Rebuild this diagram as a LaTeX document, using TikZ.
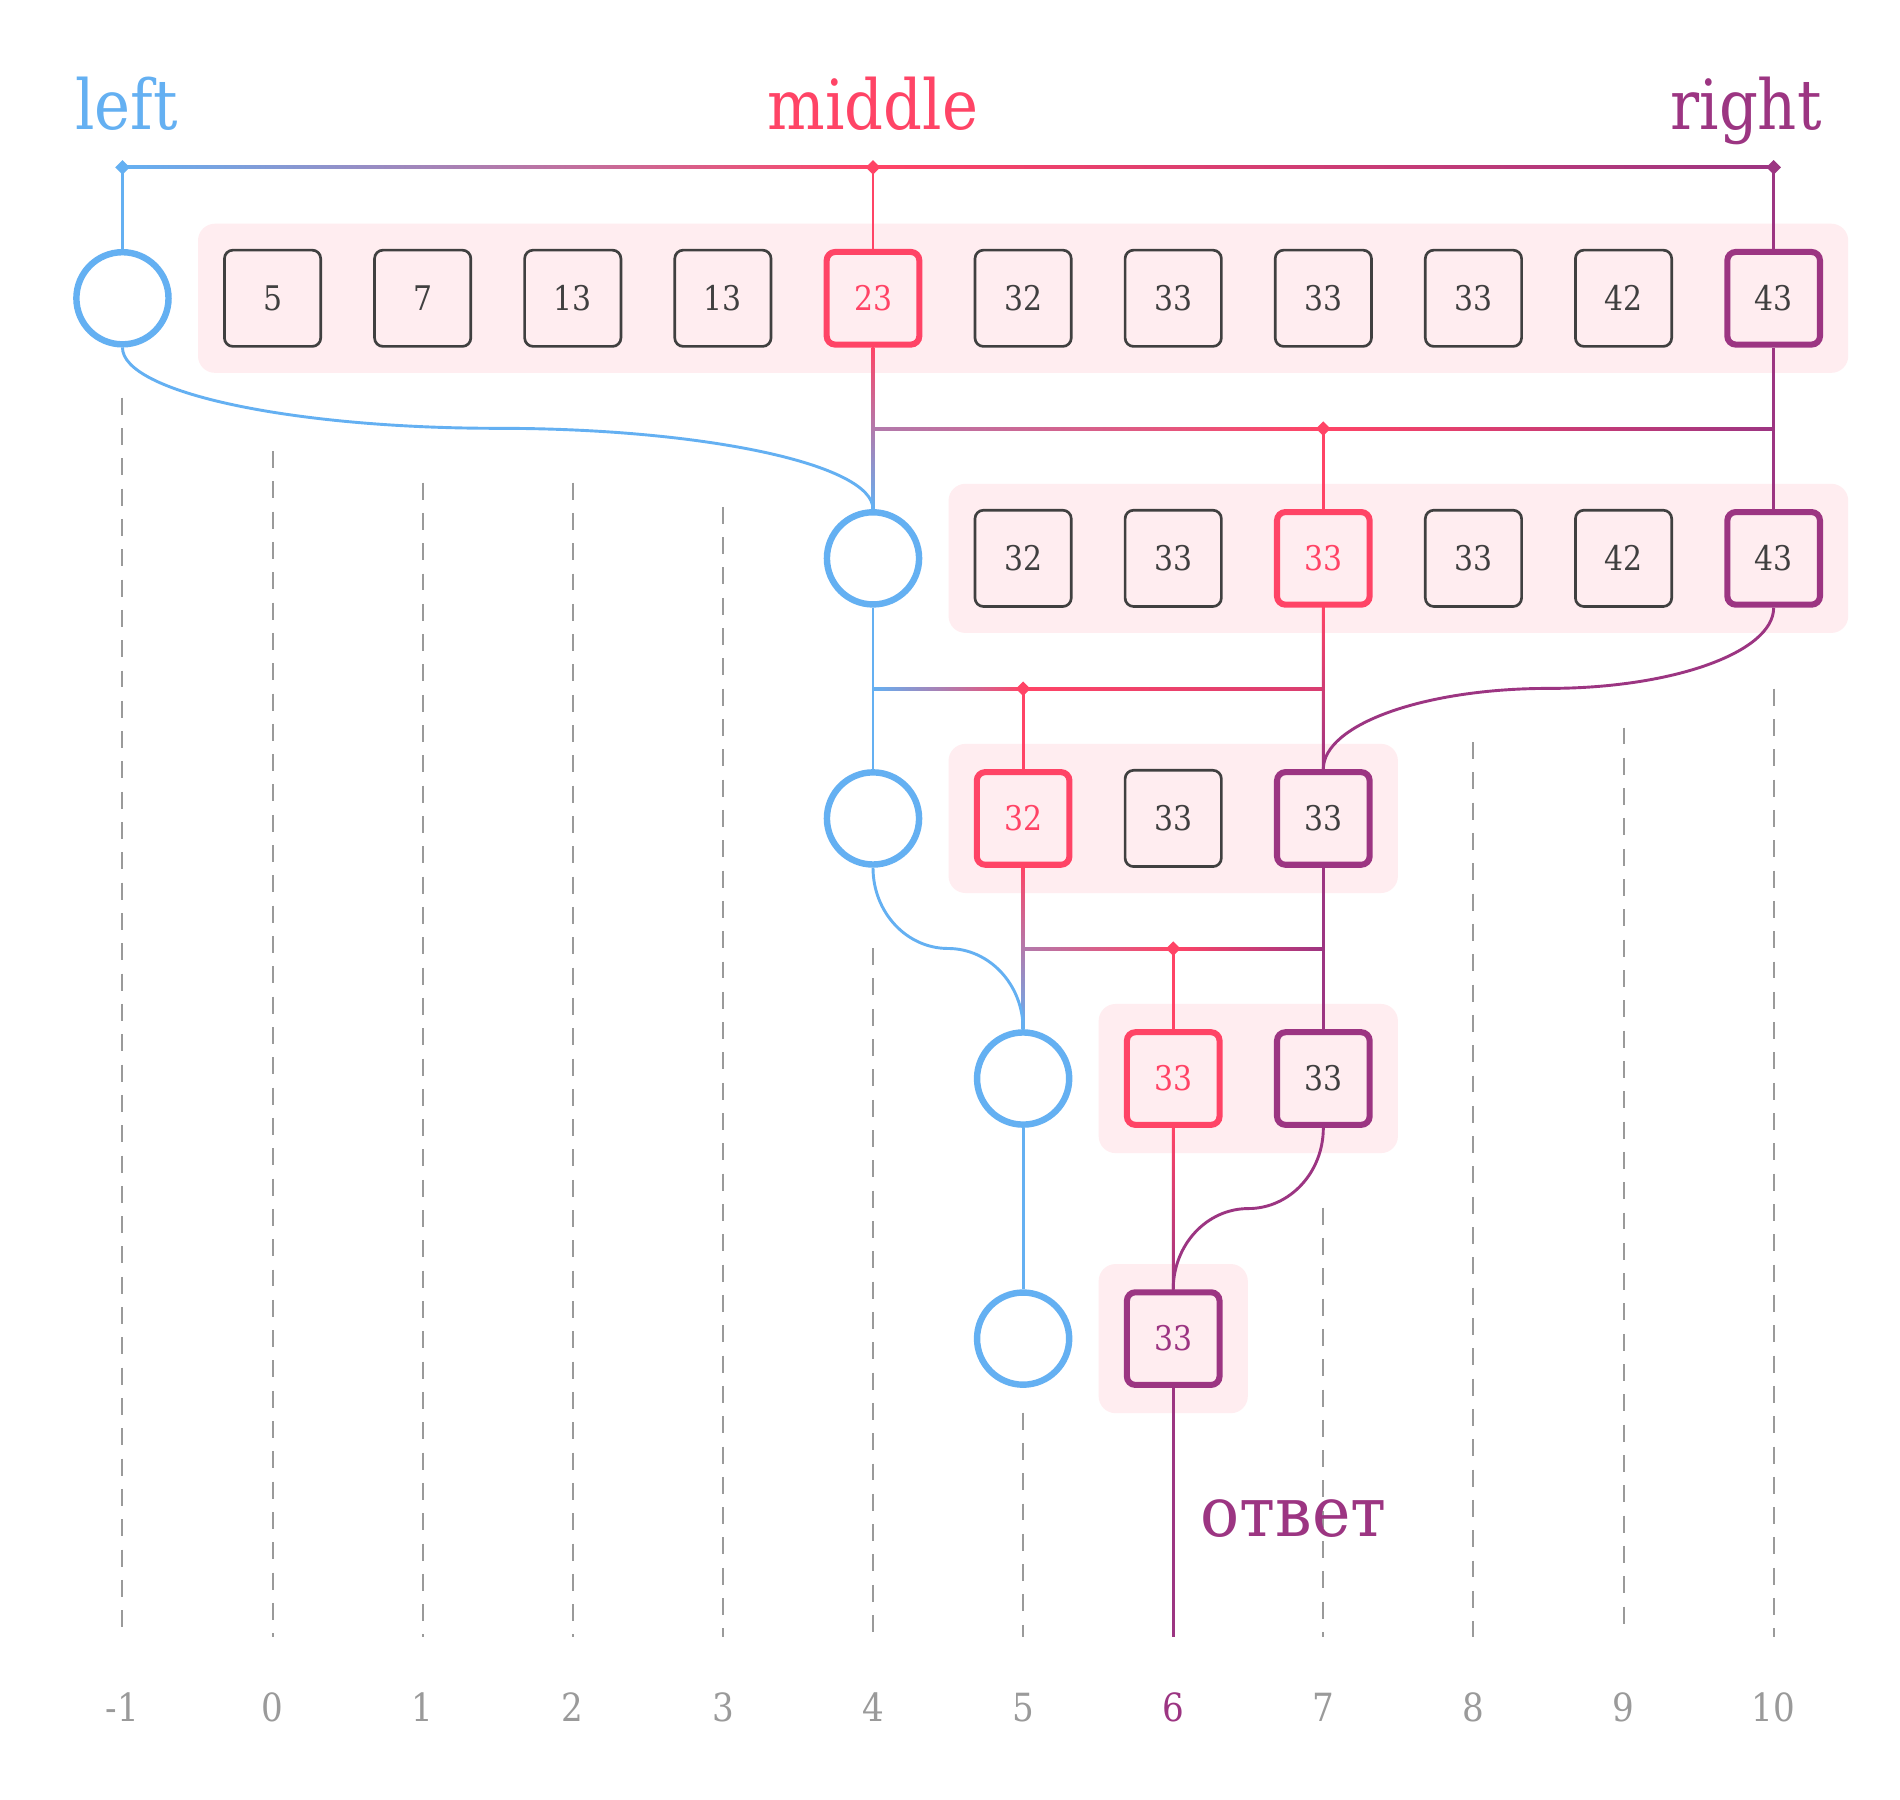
\documentclass[tikz,border=0pt]{standalone}
\usepackage{fontspec}
\setmainfont{DejaVu Serif}[FakeStretch=0.88]
\newfontfamily\ansfont{DejaVu Serif}[FakeStretch=0.94]
\usetikzlibrary{calc}
\definecolor{cblue}{HTML}{64B0F2}
\definecolor{cred}{HTML}{FF4466}
\definecolor{cpurple}{HTML}{9C3582}
\definecolor{cpink}{HTML}{FFEDF0}
\definecolor{cdark}{HTML}{404040}
\definecolor{cgray}{HTML}{9A9A9A}
\newcommand{\gw}{1.2}
\newcommand{\hgrad}[4]{\shade[left color=#3,right color=#4] ($(#1)+(0,-\gw)$) rectangle ($(#2)+(0,\gw)$);}
\newcommand{\vgrad}[4]{\shade[top color=#3,bottom color=#4] ($(#1)+(-\gw,0)$) rectangle ($(#2)+(\gw,0)$);}
\newcommand{\dmd}[2]{\fill[#2] ($(#1)+(0,-6)$) -- ($(#1)+(6,0)$) -- ($(#1)+(0,6)$) -- ($(#1)+(-6,0)$) -- cycle;}
% S-shaped connector made of two quarter-ellipse arcs
\newcommand{\scurve}[3]{%
  \coordinate (scm) at ($(#1)!0.5!(#2)$);
  \coordinate (sca) at (#1|-scm);
  \coordinate (scb) at (#2|-scm);
  \draw[conn,#3] (#1) .. controls ($(#1)!0.276!(#1|-#2)$) and ($(scm)!0.552!(sca)$) .. (scm)
    .. controls ($(scm)!0.552!(scb)$) and ($(#2)!0.276!(#2|-#1)$) .. (#2);}
\newcommand{\boxfont}{\fontsize{28}{34}\selectfont}
\newcommand{\bigfont}{\fontsize{57}{68}\selectfont}
\newcommand{\botfont}{\fontsize{32}{38}\selectfont}
\begin{document}
\begin{tikzpicture}[x=1pt,y=-1pt,
  declare function={cx(\c)=101+123.8*(\c+1); ry(\r)=246+214.5*(\r-1);},
  nbox/.style={draw=cdark, line width=2.2pt, fill=cpink, rounded corners=7pt,
    minimum size=79.4pt, inner sep=0pt, text=cdark, font=\boxfont},
  hred/.style={nbox, draw=cred, line width=5pt, minimum size=76.4pt, text=cred},
  hpur/.style={nbox, draw=cpurple, line width=5pt, minimum size=76.4pt, text=cdark},
  ptr/.style={circle, draw=cblue, line width=5.3pt, minimum size=76pt, fill=white, inner sep=0pt},
  conn/.style={line width=2.4pt},
  dashline/.style={draw=cgray, line width=1.6pt, dash pattern=on 14pt off 11pt},
  toplab/.style={font=\bigfont, anchor=base, inner sep=0pt},
  botlab/.style={font=\botfont, anchor=base, inner sep=0pt, text=cgray},
  pinkbg/.style={fill=cpink, rounded corners=14pt}
]
\fill[white] (0,0) rectangle (1567,1484.5);
\useasboundingbox (0,0) rectangle (1567,1484.5);

% pink backgrounds
\fill[pinkbg] ({cx(0)-61.5},{ry(1)-61.5}) rectangle ({cx(10)+61.5},{ry(1)+61.5});
\fill[pinkbg] ({cx(5)-61.5},{ry(2)-61.5}) rectangle ({cx(10)+61.5},{ry(2)+61.5});
\fill[pinkbg] ({cx(5)-61.5},{ry(3)-61.5}) rectangle ({cx(7)+61.5},{ry(3)+61.5});
\fill[pinkbg] ({cx(6)-61.5},{ry(4)-61.5}) rectangle ({cx(7)+61.5},{ry(4)+61.5});
\fill[pinkbg] ({cx(6)-61.5},{ry(5)-61.5}) rectangle ({cx(6)+61.5},{ry(5)+61.5});

% dashed grid lines
\foreach \c/\s in {-1/328, 0/372, 1/398, 2/398, 3/418, 4/782, 5/1165, 7/996, 8/612, 9/600, 10/568}
  \draw[dashline] ({cx(\c)},\s) -- ({cx(\c)},1350);

% pointer circles
\node[ptr] (c1) at ({cx(-1)},{ry(1)}) {};
\node[ptr] (c2) at ({cx(4)},{ry(2)}) {};
\node[ptr] (c3) at ({cx(4)},{ry(3)}) {};
\node[ptr] (c4) at ({cx(5)},{ry(4)}) {};
\node[ptr] (c5) at ({cx(5)},{ry(5)}) {};

% row 1
\foreach \c/\v in {0/5,1/7,2/13,3/13,5/32,6/33,7/33,8/33,9/42}
  \node[nbox] (r1c\c) at ({cx(\c)},{ry(1)}) {\v};
\node[hred] (r1c4) at ({cx(4)},{ry(1)}) {23};
\node[hpur] (r1c10) at ({cx(10)},{ry(1)}) {43};
% row 2
\foreach \c/\v in {5/32,6/33,8/33,9/42}
  \node[nbox] (r2c\c) at ({cx(\c)},{ry(2)}) {\v};
\node[hred] (r2c7) at ({cx(7)},{ry(2)}) {33};
\node[hpur] (r2c10) at ({cx(10)},{ry(2)}) {43};
% row 3
\node[hred] (r3c5) at ({cx(5)},{ry(3)}) {32};
\node[nbox] (r3c6) at ({cx(6)},{ry(3)}) {33};
\node[hpur] (r3c7) at ({cx(7)},{ry(3)}) {33};
% row 4
\node[hred] (r4c6) at ({cx(6)},{ry(4)}) {33};
\node[hpur] (r4c7) at ({cx(7)},{ry(4)}) {33};
% row 5
\node[hpur, text=cpurple] (r5c6) at ({cx(6)},{ry(5)}) {33};

% coordinates
\coordinate (tL) at ({cx(-1)},138);
\coordinate (tM) at ({cx(4)},138);
\coordinate (tR) at ({cx(10)},138);
\coordinate (s1L) at ({cx(4)},353.5);
\coordinate (s1M) at ({cx(7)},353.5);
\coordinate (s1R) at ({cx(10)},353.5);
\coordinate (s2L) at ({cx(4)},568);
\coordinate (s2M) at ({cx(5)},568);
\coordinate (s2R) at ({cx(7)},568);
\coordinate (s3L) at ({cx(5)},782.3);
\coordinate (s3M) at ({cx(6)},782.3);
\coordinate (s3R) at ({cx(7)},782.3);
\coordinate (ans) at ({cx(6)},1350);

% top line
\hgrad{tL}{tM}{cblue}{cred}
\hgrad{tM}{tR}{cred}{cpurple}
\draw[conn,cblue] (tL) -- (c1.north);
\draw[conn,cred] (tM) -- (r1c4.north);
\draw[conn,cpurple] (tR) -- (r1c10.north);

% row 1 -> 2
\vgrad{r1c4.south}{c2.north}{cred}{cblue}
\hgrad{s1L}{s1M}{cred!50!cblue}{cred}
\hgrad{s1M}{s1R}{cred}{cpurple}
\draw[conn,cred] (s1M) -- (r2c7.north);
\draw[conn,cpurple] (r1c10.south) -- (r2c10.north);
\scurve{c1.south}{c2.north}{cblue}

% row 2 -> 3
\draw[conn,cblue] (c2.south) -- (c3.north);
\hgrad{s2L}{s2M}{cblue}{cred}
\hgrad{s2M}{s2R}{cred}{cred!60!cpurple}
\draw[conn,cred] (s2M) -- (r3c5.north);
\vgrad{r2c7.south}{r3c7.north}{cred}{cpurple}
\scurve{r2c10.south}{r3c7.north}{cpurple}

% row 3 -> 4
\vgrad{r3c5.south}{c4.north}{cred}{cblue}
\hgrad{s3L}{s3M}{cred!50!cblue}{cred}
\hgrad{s3M}{s3R}{cred}{cpurple}
\draw[conn,cred] (s3M) -- (r4c6.north);
\draw[conn,cpurple] (r3c7.south) -- (r4c7.north);
\scurve{c3.south}{c4.north}{cblue}

% row 4 -> 5
\draw[conn,cblue] (c4.south) -- (c5.north);
\vgrad{r4c6.south}{r5c6.north}{cred}{cpurple}
\scurve{r4c7.south}{r5c6.north}{cpurple}
\draw[conn,cpurple] (r5c6.south) -- (ans);

% diamonds
\dmd{tL}{cblue}
\dmd{tM}{cred}
\dmd{tR}{cpurple}
\dmd{s1M}{cred}
\dmd{s2M}{cred}
\dmd{s3M}{cred}

% labels
\node[toplab, text=cblue] (lleft) at (104.3,107.2) {left};
\node[toplab, text=cred] (lmid) at (720,107.2) {middle};
\node[toplab, text=cpurple] (lright) at (1440,107.2) {right};
\node[toplab, text=cpurple, font=\bigfont\ansfont] (lans) at (1067,1266.8) {ответ};

\foreach \c in {-1,0,1,2,3,4,5,7,8,9,10}
  \node[botlab] (n\c) at ({cx(\c)},1419.4) {\c};
\node[botlab, text=cpurple] (n6) at ({cx(6)},1419.4) {6};
\end{tikzpicture}
\end{document}
